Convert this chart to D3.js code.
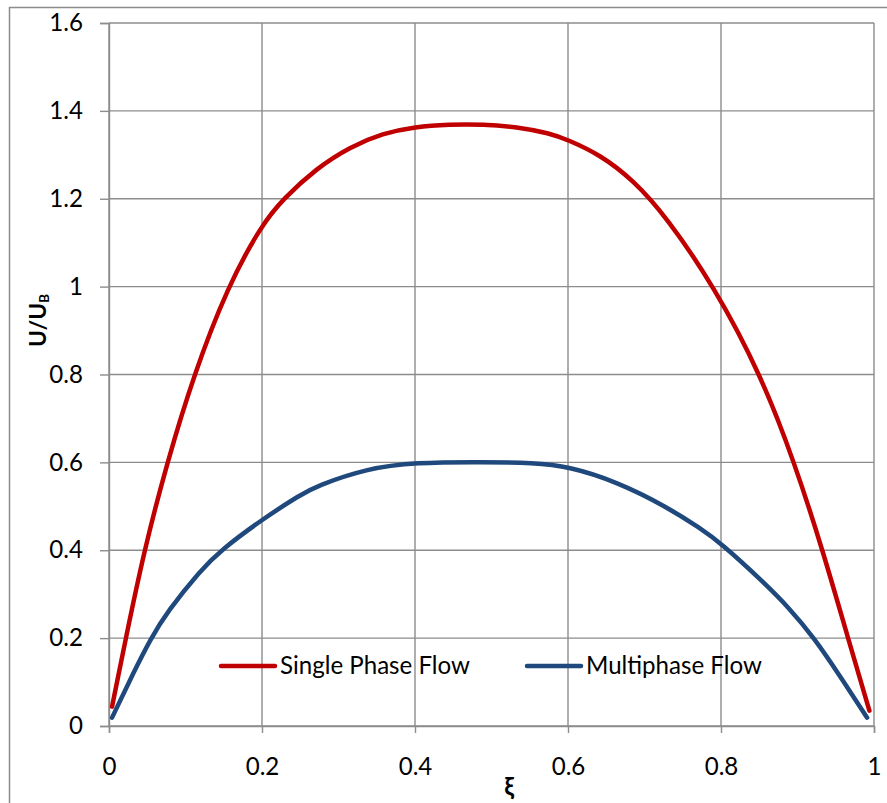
<!DOCTYPE html>
<html>
<head>
<meta charset="utf-8">
<script src="https://cdn.jsdelivr.net/npm/d3@7"></script>
<style>
  html, body { margin: 0; padding: 0; background: #fff; }
  svg { display: block; }
  text { font-family: Lato, "Open Sans", sans-serif; fill: #000; }
</style>
</head>
<body>
<svg id="chart" width="887" height="803"></svg>
<script>
// ---- data ----
const xTicks = [0, 0.2, 0.4, 0.6, 0.8, 1];
const xTickLabels = ["0", "0.2", "0.4", "0.6", "0.8", "1"];
const yTicks = [0, 0.2, 0.4, 0.6, 0.8, 1, 1.2, 1.4, 1.6];
const yTickLabels = ["0", "0.2", "0.4", "0.6", "0.8", "1", "1.2", "1.4", "1.6"];

const seriesNames = ["Single Phase Flow", "Multiphase Flow"];

const singleXi = [0.004, 0.022, 0.046, 0.076, 0.111, 0.155, 0.2, 0.228, 0.271, 0.315, 0.358, 0.4, 0.445, 0.489, 0.533, 0.576, 0.6, 0.642, 0.685, 0.729, 0.791, 0.852, 0.896, 0.933, 0.966, 0.994];
const singleU  = [0.044, 0.2, 0.4, 0.6, 0.8, 1.0, 1.142, 1.2, 1.269, 1.318, 1.349, 1.364, 1.369, 1.369, 1.364, 1.349, 1.334, 1.3, 1.243, 1.158, 1.0, 0.8, 0.6, 0.4, 0.2, 0.035];

const multiXi = [0.004, 0.033, 0.054, 0.076, 0.12, 0.146, 0.2, 0.25, 0.271, 0.337, 0.4, 0.489, 0.555, 0.6, 0.664, 0.729, 0.773, 0.8, 0.854, 0.889, 0.922, 0.954, 0.991];
const multiU  = [0.019, 0.125, 0.197, 0.26, 0.355, 0.4, 0.47, 0.526, 0.546, 0.586, 0.6, 0.601, 0.599, 0.591, 0.556, 0.499, 0.45, 0.416, 0.33, 0.269, 0.2, 0.118, 0.019];

const seriesColors = ["#C00000", "#1F497D"];

// ---- layout ----
const svg = d3.select("#chart");
const plot = { left: 109, right: 874, top: 23, bottom: 726 };
const gridColor = "#8c8c8c";

const x = d3.scaleLinear().domain([0, 1]).range([plot.left, plot.right]);
const y = d3.scaleLinear().domain([0, 1.6]).range([plot.bottom, plot.top]);

// font size fitted so the legend text has the reference's width
const probe = svg.append("text").attr("font-size", 100).text(seriesNames[0]);
const fs = 100 * 190 / probe.node().getComputedTextLength();
probe.remove();

// outer chart border
svg.append("rect")
  .attr("x", 9.5).attr("y", 7.5).attr("width", 1000).attr("height", 1000)
  .attr("fill", "none").attr("stroke", gridColor).attr("stroke-width", 1.5);

// grid lines
svg.append("g").selectAll("line").data(yTicks).join("line")
  .attr("x1", plot.left).attr("x2", plot.right)
  .attr("y1", d => y(d)).attr("y2", d => y(d))
  .attr("stroke", gridColor).attr("stroke-width", 1.4);
svg.append("g").selectAll("line").data(xTicks).join("line")
  .attr("x1", d => x(d)).attr("x2", d => x(d))
  .attr("y1", plot.top).attr("y2", plot.bottom)
  .attr("stroke", gridColor).attr("stroke-width", 1.4);

// axes
const yAxis = d3.axisLeft(y).tickValues(yTicks)
  .tickFormat((d, i) => yTickLabels[i]).tickSize(9).tickPadding(17);
const gy = svg.append("g").attr("transform", `translate(${plot.left},0)`).call(yAxis);
const xAxis = d3.axisBottom(x).tickValues(xTicks)
  .tickFormat((d, i) => xTickLabels[i]).tickSize(7).tickPadding(25);
const gx = svg.append("g").attr("transform", `translate(0,${plot.bottom})`).call(xAxis);
[gx, gy].forEach(g => {
  g.select(".domain").attr("stroke", gridColor).attr("stroke-width", 1.4);
  g.selectAll(".tick line").attr("stroke", gridColor).attr("stroke-width", 1.4);
  g.selectAll(".tick text").attr("font-size", fs).attr("font-family", "Lato, sans-serif").attr("fill", "#000");
});

// lines
const line = d3.line().x(d => x(d[0])).y(d => y(d[1])).curve(d3.curveBasis);
const series = [
  d3.zip(singleXi, singleU),
  d3.zip(multiXi, multiU)
];
series.forEach((s, i) => {
  svg.append("path").datum(s)
    .attr("d", line)
    .attr("fill", "none")
    .attr("stroke", seriesColors[i])
    .attr("stroke-width", 4.5)
    .attr("stroke-linecap", "round")
    .attr("stroke-linejoin", "round");
});

// legend
const legendX = [221, 527];
seriesNames.forEach((name, i) => {
  const g = svg.append("g");
  g.append("line")
    .attr("x1", legendX[i]).attr("x2", legendX[i] + 54)
    .attr("y1", 666).attr("y2", 666)
    .attr("stroke", seriesColors[i]).attr("stroke-width", 4.5)
    .attr("stroke-linecap", "round");
  g.append("text")
    .attr("x", legendX[i] + 59).attr("y", 674)
    .attr("font-size", fs)
    .text(name);
});

// axis titles
svg.append("text")
  .attr("x", 509).attr("y", 795)
  .attr("text-anchor", "middle")
  .attr("font-size", fs)
  .attr("font-weight", "bold")
  .text("ξ");

const yt = svg.append("text")
  .attr("transform", "translate(46,347) rotate(-90)")
  .attr("font-size", fs * 0.95)
  .attr("font-weight", "bold");
yt.append("tspan").text("U/U");
yt.append("tspan").attr("font-size", fs * 0.55).attr("dy", 3).text("B");
</script>
</body>
</html>
